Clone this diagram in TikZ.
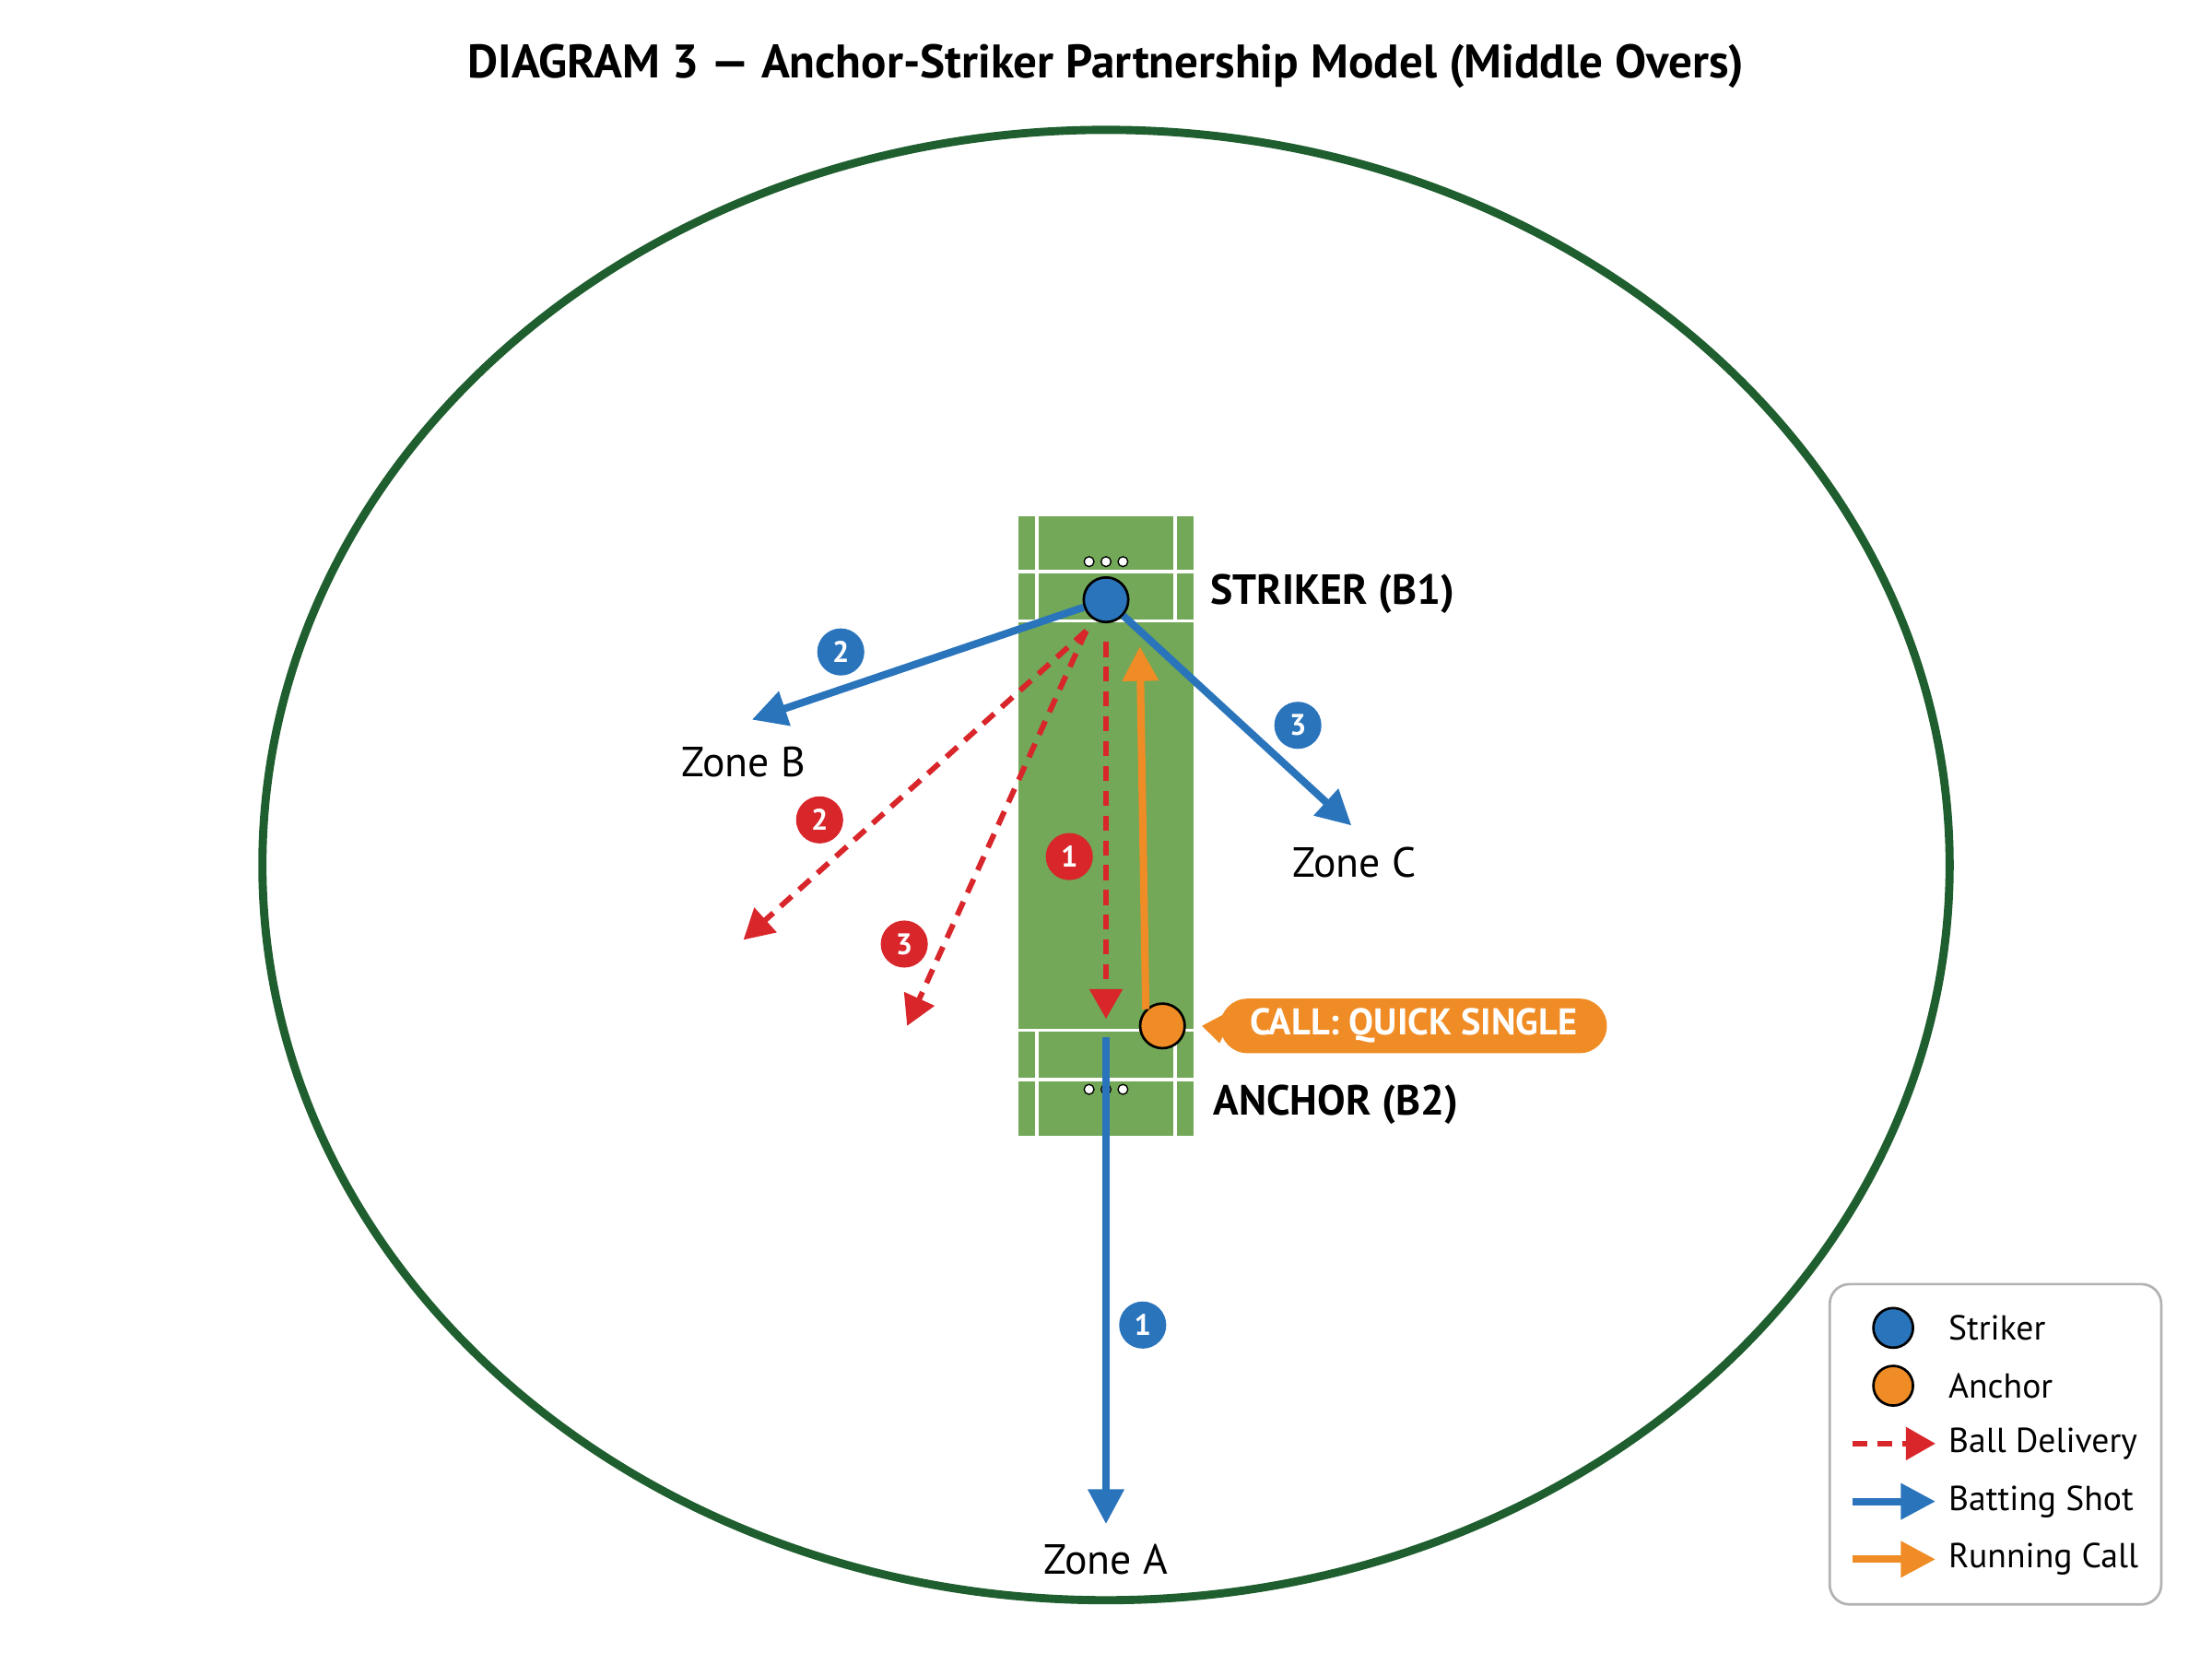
\documentclass[tikz,border=0pt]{standalone}
\usepackage{fontspec}
\setmainfont{PT Sans}
\usepackage{tikz}
\usetikzlibrary{arrows.meta, positioning, calc, shapes.geometric}
\definecolor{fieldgreen}{HTML}{1F5E2E}
\definecolor{pitchgreen}{HTML}{72A857}
\definecolor{shotblue}{HTML}{2A74BC}
\definecolor{ballred}{HTML}{D8262B}
\definecolor{runorange}{HTML}{F08C25}
\tikzset{
  player/.style={circle, draw=black, line width=1pt, minimum size=18pt, inner sep=0pt},
  shot/.style={shotblue, line width=3pt, -{Triangle[length=14pt,width=14pt]}},
  ball/.style={ballred, line width=2.2pt, dash pattern=on 6pt off 4pt, -{Triangle[length=12pt,width=13pt]}},
  run/.style={runorange, line width=3pt, -{Triangle[length=14pt,width=14pt]}},
  badge/.style={circle, text=white, font=\bfseries\fontsize{12}{12}\selectfont, minimum size=19pt, inner sep=0pt},
  zone/.style={font=\fontsize{17}{17}\selectfont},
  tag/.style={font=\bfseries\fontsize{17}{17}\selectfont, anchor=west},
  crease/.style={white, line width=1.2pt},
  stump/.style={circle, draw=black, fill=white, line width=0.5pt, minimum size=4pt, inner sep=0pt},
  key/.style={font=\fontsize{14}{14}\selectfont, anchor=west}
}
\begin{document}
\begin{tikzpicture}[x=0.02cm, y=-0.02cm]
\useasboundingbox (0,0) rectangle (1568,1171);
% Title
\node (title) at (784,47) {\bfseries\fontsize{19}{19}\selectfont DIAGRAM 3 --- Anchor-Striker Partnership Model (Middle Overs)};

% Field and pitch
\draw[fieldgreen, line width=3.3pt] (784,613) ellipse [x radius=598, y radius=521];
\fill[pitchgreen] (722,366) rectangle (846,805);
\draw[crease] (722,405) -- (846,405) (722,440) -- (846,440);
\draw[crease] (735,366) -- (735,440) (833,366) -- (833,440);
\draw[crease] (722,730) -- (846,730) (722,765) -- (846,765);
\draw[crease] (735,730) -- (735,805) (833,730) -- (833,805);
\foreach \x in {772,784,796} {
  \node[stump] at (\x,398) {};
  \node[stump] at (\x,772) {};
}

% Players
\node[player, fill=shotblue] (striker) at (784,425) {};
\node[player, fill=runorange] (anchor) at (824,727) {};
\node[tag] (strikerlbl) at (852,421) {STRIKER (B1)};
\node[tag] (anchorlbl) at (854,783) {ANCHOR (B2)};

% Zones
\node[zone] (zoneB) at (527,540) {Zone B};
\node[zone] (zoneC) at (960,611) {Zone C};
\node[zone] (zoneA) at (784,1105) {Zone A};
\coordinate (endB) at (533,510);
\coordinate (endC) at (958,585);
\coordinate (topA) at (784,735);
\coordinate (endA) at (784,1080);

% Ball deliveries
\coordinate (rel) at (770,447);
\coordinate (ball2) at (527,666);
\coordinate (ball3) at (643,727);
\coordinate (ball1) at (784,722);
\draw[ball] (rel) -- (ball2);
\draw[ball] (rel) -- (ball3);
\draw[ball] (784,455) -- (ball1);

% Shots
\draw[shot] (striker) -- (endB);
\draw[shot] (striker) -- (endC);
\draw[shot] (topA) -- (endA);

% Running call
\draw[run] (anchor.north west) -- (808,458);
\node[fill=runorange, text=white, rounded corners=11pt, minimum height=22pt,
  inner xsep=12pt, font=\bfseries\fontsize{15}{15}\selectfont] (call) at (1002,727) {CALL: QUICK SINGLE};
\coordinate (tip) at (852,727);
\fill[runorange] (tip) -- ([yshift=-7pt]call.west) -- ([xshift=6pt,yshift=7pt]call.west) -- cycle;

% Badges
\node[badge, fill=shotblue] (b2) at (596,462) {2};
\node[badge, fill=shotblue] (b3) at (920,514) {3};
\node[badge, fill=shotblue] (b1) at (810,939) {1};
\node[badge, fill=ballred] (r2) at (581,581) {2};
\node[badge, fill=ballred] (r1) at (758,607) {1};
\node[badge, fill=ballred] (r3) at (641,669) {3};

% Legend
\draw[gray!60, fill=white, line width=1pt, rounded corners=8pt] (1297,910) rectangle (1532,1137);
\node[player, fill=shotblue, minimum size=16pt] (kstriker) at (1342,941) {};
\node[key] at (1375,941) {Striker};
\node[player, fill=runorange, minimum size=16pt] (kanchor) at (1342,982) {};
\node[key] at (1375,982) {Anchor};
\coordinate (kb1) at (1313,1023); \coordinate (kb2) at (1372,1023);
\draw[ball] (kb1) -- (kb2);
\node[key] at (1375,1023) {Ball Delivery};
\coordinate (ks1) at (1313,1064); \coordinate (ks2) at (1372,1064);
\draw[shot] (ks1) -- (ks2);
\node[key] at (1375,1064) {Batting Shot};
\coordinate (kr1) at (1313,1105); \coordinate (kr2) at (1372,1105);
\draw[run] (kr1) -- (kr2);
\node[key] at (1375,1105) {Running Call};
\end{tikzpicture}
\end{document}
